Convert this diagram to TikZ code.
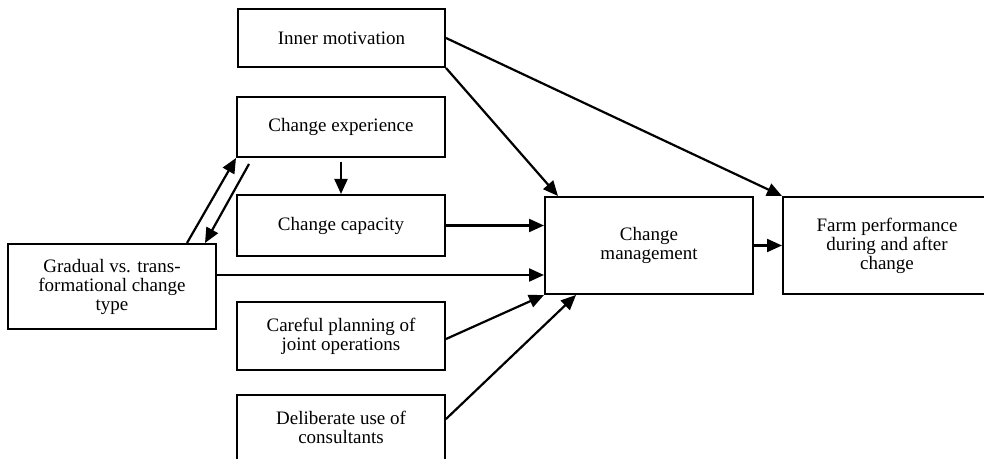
\documentclass[tikz,border=0pt]{standalone}
\usepackage{fontspec}
\setmainfont{Liberation Serif}
\usetikzlibrary{arrows.meta,calc}
\begin{document}
\begin{tikzpicture}[x=1pt,y=1pt,
  box/.style={draw,line width=2pt,inner sep=0pt,align=center,
    font=\fontsize{19}{19}\selectfont},
  arr/.style={line width=2.2pt,-{Triangle[length=15pt,width=13pt]}}]
\useasboundingbox (0,0) rectangle (984,458);
\node[box,minimum width=207,minimum height=58] (inner) at (341.5,420) {Inner motivation};
\node[box,minimum width=208,minimum height=60] (exper) at (341,331) {Change experience};
\node[box,minimum width=208,minimum height=61] (capac) at (341,232.5) {Change capacity};
\node[box,minimum width=208,minimum height=85] (grad) at (112,171.5) {Gradual vs. trans-\\formational change\\type};
\node[box,minimum width=208,minimum height=68] (careful) at (341,122) {Careful planning of\\joint operations};
\node[box,minimum width=208,minimum height=65] (delib) at (341,30.5) {Deliberate use of\\consultants};
\node[box,minimum width=208,minimum height=97] (mgmt) at (649,212.5) {Change\\management};
\node[box,minimum width=208,minimum height=97] (farm) at (887,212.5) {Farm performance\\during and after\\change};
\draw[arr] (inner.south east) -- ($(mgmt.north west)+(14,0)$);
\draw[arr] (inner.east) -- (farm.north west);
\draw[arr] ($(grad.north)+(75,0)$) -- (exper.south west);
\draw[arr] ($(exper.south west)+(13,-6)$) -- ($(grad.north)+(93,0)$);
\draw[arr] ($(exper.south)+(0,-4)$) -- (capac.north);
\draw[arr] (capac.east) -- (capac.east -| mgmt.west);
\draw[arr] ($(grad.east)+(0,11.5)$) coordinate (g1) -- (g1 -| mgmt.west);
\draw[arr] ($(careful.east)+(0,-3)$) -- (mgmt.south west);
\draw[arr] ($(delib.east)+(0,8.5)$) -- ($(mgmt.south west)+(32,0)$);
\draw[arr] (mgmt.east) -- (farm.west);
\end{tikzpicture}
\end{document}
